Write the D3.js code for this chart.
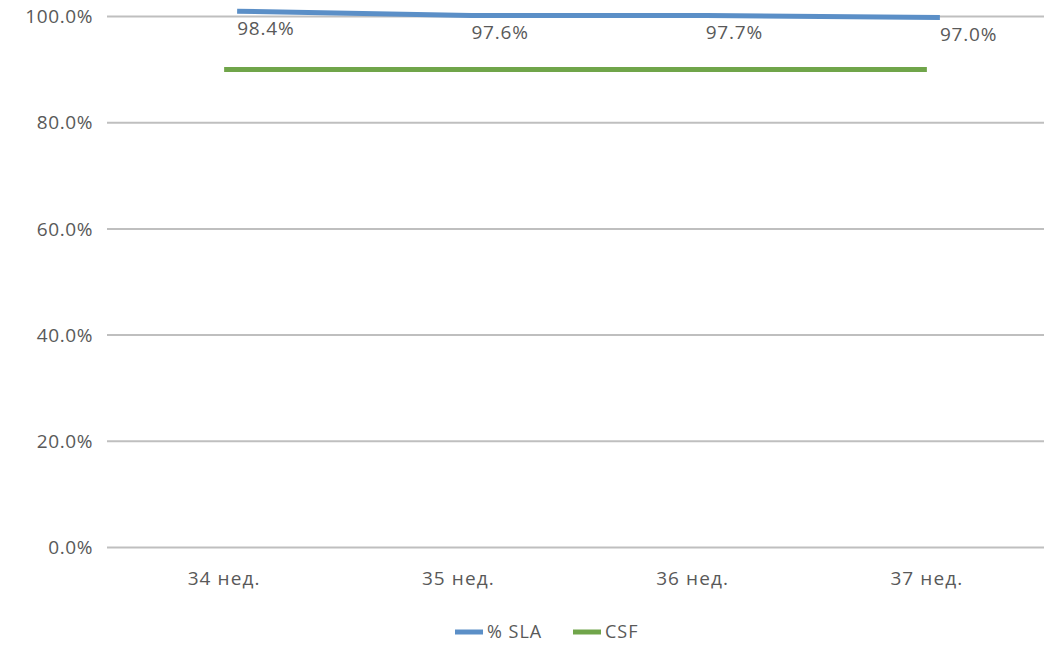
<!DOCTYPE html>
<html><head><meta charset="utf-8">
<script src="https://cdn.jsdelivr.net/npm/d3@7"></script>
<style>body{margin:0;background:#fff}svg{display:block}text{font-family:"Open Sans",sans-serif;fill:#595959}</style>
</head><body>
<svg id="c" width="1056" height="646"></svg>
<script>
const categories = ["34 нед.", "35 нед.", "36 нед.", "37 нед."];
const slaValues = [1.010, 1.002, 1.002, 0.998];   // plotted position of % SLA line
const slaLabels = ["98.4%", "97.6%", "97.7%", "97.0%"];
const csfValues = [0.9, 0.9, 0.9, 0.9];
const yTicks = [0, 0.2, 0.4, 0.6, 0.8, 1.0];
const seriesNames = ["% SLA", "CSF"];
const colors = ["#5b8fc7", "#70a54a"];

const svg = d3.select("#c");
const L = 107, R = 1044, T = 16.5, B = 547.5;
const x = d3.scaleBand().domain(categories).range([L, R]);
const y = d3.scaleLinear().domain([0, 1]).range([B, T]);
const fmt = d3.format(".1%");

// gridlines
svg.append("g").selectAll("line").data(yTicks).join("line")
  .attr("x1", L).attr("x2", R)
  .attr("y1", d => y(d)).attr("y2", d => y(d))
  .attr("stroke", "#bfbfbf").attr("stroke-width", 2);

// y axis labels
svg.append("g").selectAll("text").data(yTicks).join("text")
  .attr("x", 93).attr("y", d => y(d)).attr("dy", "0.35em")
  .attr("text-anchor", "end").style("font-size", "19px").style("letter-spacing", "0.6px")
  .text(d => fmt(d));

// x axis labels
svg.append("g").selectAll("text").data(categories).join("text")
  .attr("x", d => x(d) + x.bandwidth() / 2).attr("y", 578).attr("dy", "0.35em")
  .attr("text-anchor", "middle").style("font-size", "19px").style("letter-spacing", "1.1px")
  .text(d => d);

const cx = d => x(d) + x.bandwidth() / 2;
const slaOff = 13;

// CSF line
svg.append("path")
  .datum(categories.map((c, i) => [cx(c), y(csfValues[i])]))
  .attr("d", d3.line())
  .attr("fill", "none").attr("stroke", colors[1]).attr("stroke-width", 5);

// SLA line
svg.append("path")
  .datum(categories.map((c, i) => [cx(c) + slaOff, y(slaValues[i])]))
  .attr("d", d3.line())
  .attr("fill", "none").attr("stroke", colors[0]).attr("stroke-width", 5);

// SLA labels
svg.append("g").selectAll("text").data(categories).join("text")
  .attr("x", (c, i) => cx(c) + slaOff)
  .attr("y", (c, i) => y(slaValues[i]) + 17).attr("dy", "0.35em")
  .attr("text-anchor", "start").style("font-size", "19px").style("letter-spacing", "0.8px")
  .text((c, i) => slaLabels[i]);

// legend
const leg = [{x: 455, n: seriesNames[0], c: colors[0]}, {x: 573, n: seriesNames[1], c: colors[1]}];
const lg = svg.append("g").selectAll("g").data(leg).join("g");
lg.append("line").attr("x1", d => d.x).attr("x2", d => d.x + 28)
  .attr("y1", 632).attr("y2", 632).attr("stroke", d => d.c).attr("stroke-width", 5);
lg.append("text").attr("x", d => d.x + 32).attr("y", 632).attr("dy", "0.35em")
  .style("font-size", "18px").style("letter-spacing", "1px").text(d => d.n);
</script>
</body></html>
